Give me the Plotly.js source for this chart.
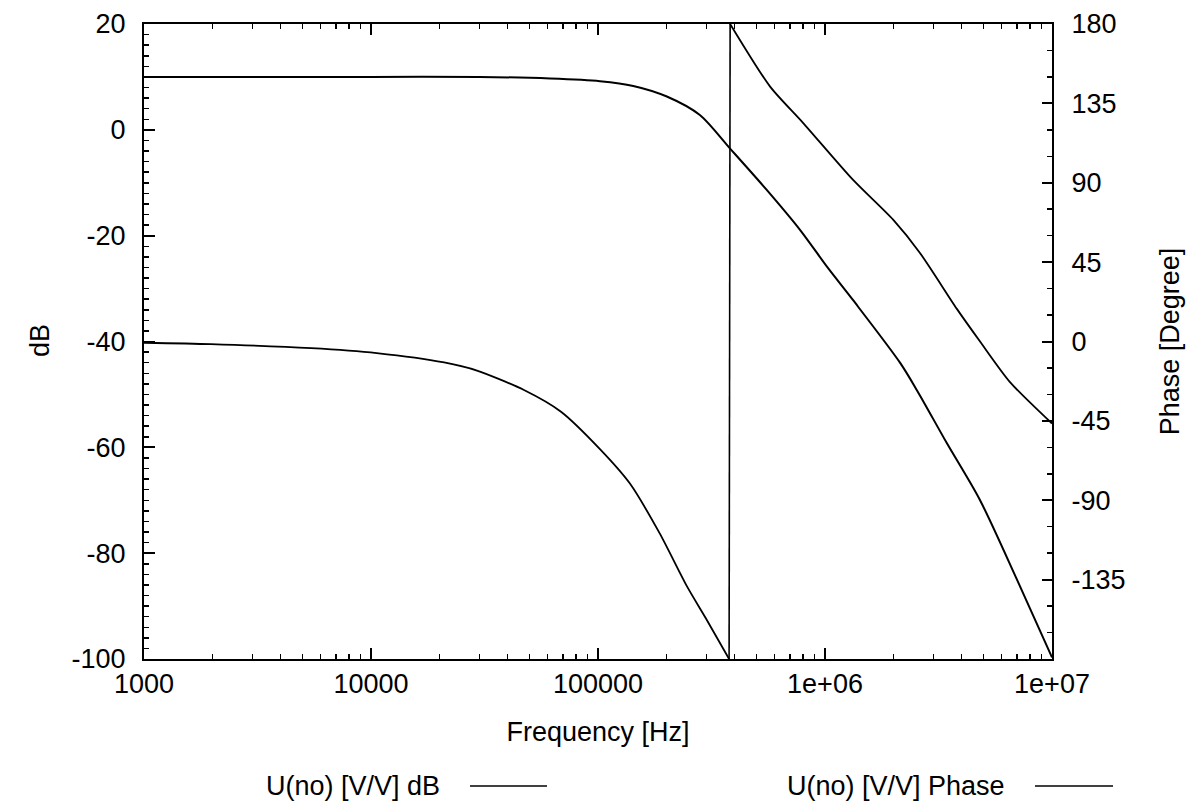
<!DOCTYPE html>
<html>
<head>
<meta charset="utf-8">
<script src="https://cdn.plot.ly/plotly-3.0.1.min.js"></script>
<style>html,body{margin:0;padding:0;background:#fff;}#chart{width:1192px;height:804px;}</style>
</head>
<body>
<div id="chart"></div>
<script>
// Magnitude trace: frequency (Hz) and gain (dB)
const dbFreq = [1000, 3000, 10000, 30000, 61500, 102000, 143000, 201000, 281000, 381000, 555000, 776000, 1030000, 1330000, 2140000, 2540000, 3440000, 4820000, 7010000, 10000000];
const dbValues = [10.0, 10.0, 10.0, 10.0, 9.7, 9.2, 8.3, 6.3, 2.8, -3.5, -11.4, -18.9, -26.1, -32.2, -44.0, -49.2, -59.2, -70.0, -85.0, -99.7];

// Phase trace: frequency (Hz) and phase (degrees), wraps at -180/+180
const phaseFreq = [1000, 1970, 5450, 10600, 21000, 29300, 47200, 68700, 102000, 138000, 187000, 247000, 302000, 378000, 382000, 573000, 800000, 1330000, 2000000, 2620000, 3810000, 4820000, 6530000, 10000000];
const phaseValues = [-0.7, -1.5, -3.8, -6.6, -11.9, -16.5, -27.5, -39.8, -61.0, -80.4, -108.8, -139.0, -158.0, -180.0, 180.0, 144.5, 124.0, 91.6, 68.9, 50.2, 18.5, 0.0, -23.0, -46.5];

// Tick labels
const xTickVals = [1000, 10000, 100000, 1000000, 10000000];
const xTickText = ["1000", "10000", "100000", "1e+06", "1e+07"];
const dbTickVals = [-100, -80, -60, -40, -20, 0, 20];
const dbTickText = ["-100", "-80", "-60", "-40", "-20", "0", "20"];
const phaseTickVals = [-135, -90, -45, 0, 45, 90, 135, 180];
const phaseTickText = ["-135", "-90", "-45", "0", "45", "90", "135", "180"];

// Legend labels
const seriesNames = ["U(no) [V/V] dB", "U(no) [V/V] Phase"];

const minorX = [];
for (let d = 1000; d < 10000000; d *= 10) {
  for (let k = 2; k <= 9; k++) minorX.push(d * k);
}

// index where the phase wraps from -180 to +180
let wrap = 1;
for (let i = 1; i < phaseValues.length; i++) {
  if (phaseValues[i] - phaseValues[i - 1] > 180) { wrap = i; break; }
}

const FONT = "'Liberation Sans', Arial, Helvetica, sans-serif";
const FS = 27;

const traces = [
  {x: dbFreq, y: dbValues, name: seriesNames[0], type: 'scatter', mode: 'lines',
   line: {color: '#000', width: 2, shape: 'spline', smoothing: 0.8}, yaxis: 'y', showlegend: false},
  {x: phaseFreq.slice(0, wrap), y: phaseValues.slice(0, wrap), name: seriesNames[1], type: 'scatter', mode: 'lines',
   line: {color: '#000', width: 1.8, shape: 'spline', smoothing: 0.7}, yaxis: 'y2', showlegend: false},
  {x: phaseFreq.slice(wrap - 1, wrap + 1), y: phaseValues.slice(wrap - 1, wrap + 1), name: seriesNames[1], type: 'scatter', mode: 'lines',
   line: {color: '#000', width: 1.6}, yaxis: 'y2', showlegend: false},
  {x: phaseFreq.slice(wrap), y: phaseValues.slice(wrap), name: seriesNames[1], type: 'scatter', mode: 'lines',
   line: {color: '#000', width: 1.8, shape: 'spline', smoothing: 0.7}, yaxis: 'y2', showlegend: false}
];

const L = 144, R = 1052, T = 24, B = 659;
const px = v => (v - L) / (R - L);
const py = v => (B - v) / (B - T);

const layout = {
  width: 1192, height: 804,
  margin: {l: L, r: 1192 - R, t: T, b: 804 - B, pad: 0},
  paper_bgcolor: '#fff', plot_bgcolor: '#fff',
  font: {family: FONT, size: FS, color: '#000'},
  showlegend: false,
  xaxis: {
    type: 'log', range: [3, 7], tickmode: 'array', tickvals: xTickVals, ticktext: xTickText,
    ticks: 'inside', ticklen: 11, tickwidth: 2, tickcolor: '#000',
    showline: true, linecolor: '#000', linewidth: 2, mirror: 'ticks',
    showgrid: false, zeroline: false,
    minor: {tickmode: 'array', tickvals: minorX, ticks: 'inside', ticklen: 5, tickwidth: 1.5, tickcolor: '#000', showgrid: false},
    tickfont: {family: FONT, size: FS, color: '#000'},
    ticklabelstandoff: 0,
    title: {text: 'Frequency [Hz]', font: {family: FONT, size: FS, color: '#000'}, standoff: 24},
    automargin: false
  },
  yaxis: {
    range: [-100, 20], tickmode: 'array', tickvals: dbTickVals, ticktext: dbTickText,
    ticks: 'inside', ticklen: 11, tickwidth: 2, tickcolor: '#000',
    showline: true, linecolor: '#000', linewidth: 2, mirror: false,
    showgrid: false, zeroline: false,
    minor: {dtick: 2, ticks: 'inside', ticklen: 5, tickwidth: 1.5, tickcolor: '#000', showgrid: false},
    tickfont: {family: FONT, size: FS, color: '#000'},
    ticklabelstandoff: 11,
    automargin: false
  },
  yaxis2: {
    overlaying: 'y', side: 'right', range: [-180, 180], tickmode: 'array', tickvals: phaseTickVals, ticktext: phaseTickText,
    ticks: 'inside', ticklen: 10, tickwidth: 2, tickcolor: '#000',
    showline: true, linecolor: '#000', linewidth: 2,
    showgrid: false, zeroline: false,
    minor: {dtick: 15, ticks: 'inside', ticklen: 5, tickwidth: 1.5, tickcolor: '#000', showgrid: false},
    tickfont: {family: FONT, size: FS, color: '#000'},
    ticklabelstandoff: 12,
    title: {text: 'Phase [Degree]', font: {family: FONT, size: FS, color: '#000'}, standoff: 36},
    automargin: false
  },
  annotations: [
    {xref: 'paper', yref: 'paper', x: px(40), y: py(341), xanchor: 'center', yanchor: 'middle', textangle: -90,
     text: 'dB', showarrow: false, font: {family: FONT, size: FS, color: '#000'}},
    {xref: 'paper', yref: 'paper', x: px(442), y: py(786), xanchor: 'right', yanchor: 'middle',
     text: seriesNames[0], showarrow: false, font: {family: FONT, size: FS, color: '#000'}},
    {xref: 'paper', yref: 'paper', x: px(1007), y: py(786), xanchor: 'right', yanchor: 'middle',
     text: seriesNames[1], showarrow: false, font: {family: FONT, size: FS, color: '#000'}}
  ],
  shapes: [
    {type: 'line', xref: 'paper', yref: 'paper', x0: px(470), x1: px(547), y0: py(786), y1: py(786),
     line: {color: '#000', width: 1.5}},
    {type: 'line', xref: 'paper', yref: 'paper', x0: px(1035), x1: px(1113), y0: py(786), y1: py(786),
     line: {color: '#000', width: 1.5}}
  ]
};

Plotly.newPlot('chart', traces, layout, {displayModeBar: false, staticPlot: true});
</script>
</body>
</html>
